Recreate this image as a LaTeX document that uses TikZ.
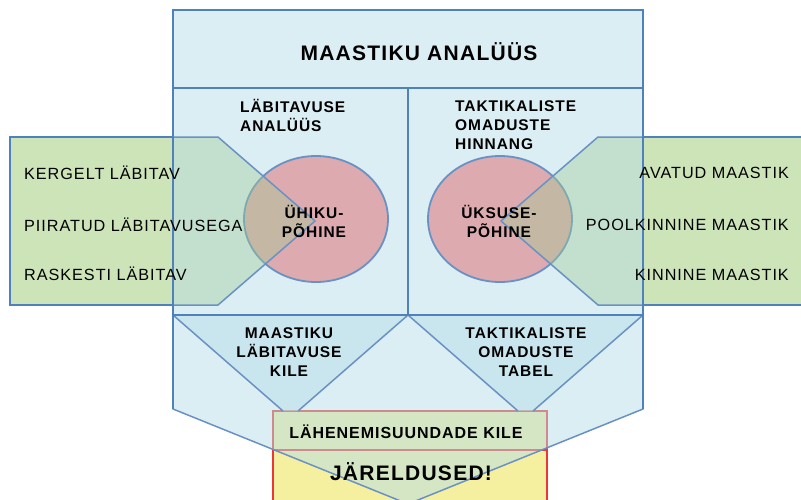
\documentclass[tikz,border=0pt]{standalone}
\usepackage{fontspec}
\setmainfont{Liberation Sans}[LetterSpace=6]
\definecolor{boxblue}{RGB}{219,238,244}
\definecolor{edgeblue}{RGB}{79,129,189}
\definecolor{lineblue}{RGB}{105,145,195}
\definecolor{tribase}{RGB}{183,221,232}
\definecolor{pinkfill}{RGB}{221,170,176}
\definecolor{greenfill}{RGB}{205,228,185}
\definecolor{greenover}{RGB}{160,205,150}
\definecolor{yellowfill}{RGB}{245,240,160}
\definecolor{redline}{RGB}{235,55,55}
\tikzset{
  mainbox/.style={fill=boxblue},
  mainedge/.style={draw=edgeblue,line width=2.2pt},
  overlay/.style={fill=tribase,fill opacity=0.5,draw=lineblue,line width=1.5pt,line join=round},
  ell/.style={fill=pinkfill,draw=lineblue,line width=1.8pt},
  greenrect/.style={fill=greenfill,draw=edgeblue,line width=2pt},
  arrowshape/.style={fill=greenover,fill opacity=0.4,draw=lineblue,line width=1.5pt,line join=round},
  boldtxt/.style={font=\fontsize{15.5}{19}\selectfont\bfseries,inner sep=0pt},
  plaintxt/.style={font=\fontsize{16.2}{19}\selectfont,inner sep=0pt},
}
\begin{document}
\begin{tikzpicture}[x=1pt,y=-1pt]
\useasboundingbox (0,0) rectangle (801,499);
\clip (0,0) rectangle (801,499);
% yellow conclusions box
\fill[yellowfill] (273,411) rectangle (547,520);
\draw[redline,line width=2pt] (273,520) -- (273,411) -- (547,411) -- (547,520);
\draw[redline,line width=2pt] (273,450) -- (547,450);
% main box fills
\fill[mainbox] (173,10) rectangle (643,88);
\fill[mainbox] (173,88) rectangle (408,315);
\fill[mainbox] (408,88) rectangle (643,315);
% lower pentagon
\draw[overlay] (173,315) -- (643,315) -- (643,409) -- (408,504) -- (173,409) -- cycle;
% wedges
\fill[tribase,fill opacity=0.5] (173,315) -- (408,315) -- (298,411) -- (283,411) -- cycle;
\draw[lineblue,line width=1.5pt] (173,315) -- (283,411);
\draw[lineblue,line width=1.5pt] (408,315) -- (298,411);
\fill[tribase,fill opacity=0.5] (408,315) -- (643,315) -- (533,411) -- (518,411) -- cycle;
\draw[lineblue,line width=1.5pt] (408,315) -- (518,411);
\draw[lineblue,line width=1.5pt] (643,315) -- (533,411);
% ellipses
\draw[ell] (316,219) ellipse [x radius=72, y radius=63];
\draw[ell] (500,219) ellipse [x radius=72, y radius=63];
% green side boxes
\draw[greenrect] (10,137) rectangle (173,305);
\draw[greenrect] (643,137) rectangle (802,305);
\draw[arrowshape] (173,137) -- (218,137) -- (315,221) -- (218,305) -- (173,305) -- cycle;
\draw[arrowshape] (643,137) -- (598,137) -- (501,221) -- (598,305) -- (643,305) -- cycle;
% main box edges
\draw[mainedge] (173,10) rectangle (643,88);
\draw[mainedge] (173,88) rectangle (408,315);
\draw[mainedge] (408,88) rectangle (643,315);
\draw[mainedge] (173,315) -- (173,409);
\draw[mainedge] (643,315) -- (643,409);
% texts
\node[font=\fontsize{21}{24}\selectfont\bfseries,inner sep=0pt] (title) at (419,52) {MAASTIKU ANALÜÜS};
\node[boldtxt,align=left,anchor=west] (lab) at (240,115.5) {LÄBITAVUSE\\ANALÜÜS};
\node[boldtxt,align=left,anchor=west] (tak) at (455,125) {TAKTIKALISTE\\OMADUSTE\\HINNANG};
\node[boldtxt,align=center] (uhiku) at (314,221.5) {ÜHIKU-\\PÕHINE};
\node[boldtxt,align=center] (uksuse) at (499,221.5) {ÜKSUSE-\\PÕHINE};
\node[plaintxt,anchor=west] (k1) at (24,173) {KERGELT LÄBITAV};
\node[plaintxt,anchor=west] (k2) at (24,225) {PIIRATUD LÄBITAVUSEGA};
\node[plaintxt,anchor=west] (k3) at (24,274) {RASKESTI LÄBITAV};
\node[plaintxt,anchor=east] (m1) at (789,173) {AVATUD MAASTIK};
\node[plaintxt,anchor=east] (m2) at (789,225) {POOLKINNINE MAASTIK};
\node[plaintxt,anchor=east] (m3) at (789,275) {KINNINE MAASTIK};
\node[boldtxt,align=center] (kile) at (289,352) {MAASTIKU\\LÄBITAVUSE\\KILE};
\node[boldtxt,align=center] (tabel) at (526,352) {TAKTIKALISTE\\OMADUSTE\\TABEL};
\node[font=\fontsize{16}{19}\selectfont\bfseries,inner sep=0pt] (lahen) at (406,432) {LÄHENEMISUUNDADE KILE};
\node[font=\fontsize{21}{24}\selectfont\bfseries,inner sep=0pt] (jar) at (411,472) {JÄRELDUSED!};
\end{tikzpicture}
\end{document}
